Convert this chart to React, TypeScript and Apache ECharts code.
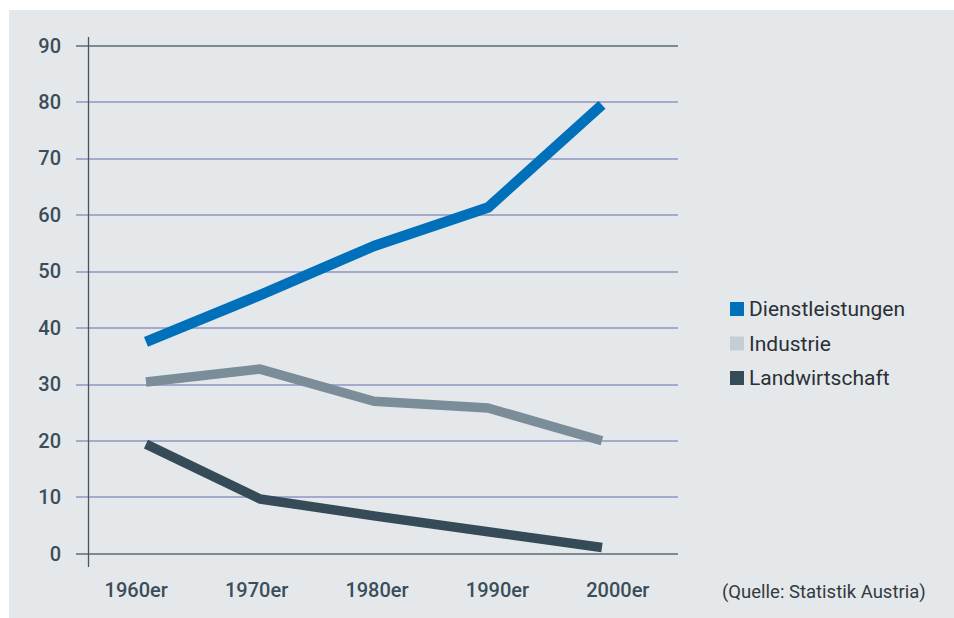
import React, { useEffect, useRef } from "react";
import * as echarts from "echarts";

const categories = ["1960er", "1970er", "1980er", "1990er", "2000er"];
const dienstleistungen = [37.5, 45.8, 54.5, 61.3, 79.5];
const industrie = [30.4, 32.7, 27.0, 25.8, 20.0];
const landwirtschaft = [19.4, 9.7, 6.7, 3.9, 1.1];
const yTicks = [0, 10, 20, 30, 40, 50, 60, 70, 80, 90];
const seriesNames = ["Dienstleistungen", "Industrie", "Landwirtschaft"];
const sourceText = "(Quelle: Statistik Austria)";

const FONT = "Roboto";
const AXIS_TEXT = "#3b4d59";

export default function App() {
  const ref = useRef<HTMLDivElement>(null);
  useEffect(() => {
    if (!ref.current) return;
    const chart = echarts.init(ref.current, null, { renderer: "svg" });
    const toPairs = (arr: number[]) => arr.map((v, i) => [i, v]);
    const gridColors = yTicks.map((t, i) =>
      i === 0 || i === yTicks.length - 1 ? "#5b6b75" : "#8f96c4"
    );
    chart.setOption({
      animation: false,
      backgroundColor: "#ffffff",
      textStyle: { fontFamily: FONT },
      graphic: [
        {
          type: "rect",
          z: -10,
          silent: true,
          shape: { x: 9, y: 10, width: 945, height: 608 },
          style: { fill: "#e4e8eb" },
        },
        {
          type: "line",
          z: 5,
          silent: true,
          shape: { x1: 88.5, y1: 37, x2: 88.5, y2: 567 },
          style: { stroke: "#44555f", lineWidth: 1.3 },
        },
        {
          type: "text",
          x: 722,
          y: 592,
          style: {
            text: sourceText,
            fontFamily: FONT,
            fontSize: 18.5,
            fill: "#333a3f",
            verticalAlign: "middle",
            align: "left",
          },
        },
      ],
      grid: { left: 76, right: 276, top: 45.5, bottom: 64.3, containLabel: false },
      legend: {
        orient: "vertical",
        left: 725,
        top: 293,
        icon: "rect",
        itemWidth: 14,
        itemHeight: 14,
        itemGap: 12.5,
        textStyle: { fontFamily: FONT, fontSize: 21, color: "#2b3035", lineHeight: 22 },
        data: [
          { name: seriesNames[0], itemStyle: { color: "#0070ba" } },
          { name: seriesNames[1], itemStyle: { color: "#c6cdd3" } },
          { name: seriesNames[2], itemStyle: { color: "#354b58" } },
        ],
      },
      xAxis: [
        {
          type: "category",
          data: categories,
          boundaryGap: true,
          axisLine: { show: false },
          axisTick: { show: false },
          splitLine: { show: false },
          axisLabel: {
            color: AXIS_TEXT,
            fontSize: 20,
            fontWeight: 500,
            fontFamily: FONT,
            margin: 26,
          },
        },
        {
          type: "value",
          min: -0.614,
          max: 4.667,
          show: false,
          splitLine: { show: false },
        },
      ],
      yAxis: {
        type: "value",
        min: 0,
        max: 90,
        interval: 10,
        axisLine: { show: false },
        axisTick: { show: false },
        axisLabel: {
          color: AXIS_TEXT,
          fontSize: 20,
          fontWeight: 500,
          fontFamily: FONT,
          margin: 15,
        },
        splitLine: { show: true, lineStyle: { color: gridColors, width: 1.5 } },
      },
      series: [
        {
          name: seriesNames[1],
          type: "line",
          xAxisIndex: 1,
          data: toPairs(industrie),
          symbol: "none",
          lineStyle: { color: "#7b8d99", width: 9.5, cap: "butt", join: "round" },
          itemStyle: { color: "#7b8d99" },
        },
        {
          name: seriesNames[2],
          type: "line",
          xAxisIndex: 1,
          data: toPairs(landwirtschaft),
          symbol: "none",
          lineStyle: { color: "#354b58", width: 9.5, cap: "butt", join: "round" },
          itemStyle: { color: "#354b58" },
        },
        {
          name: seriesNames[0],
          type: "line",
          xAxisIndex: 1,
          data: toPairs(dienstleistungen),
          symbol: "none",
          lineStyle: { color: "#0070ba", width: 10.5, cap: "butt", join: "round" },
          itemStyle: { color: "#0070ba" },
        },
      ],
    });
    return () => chart.dispose();
  }, []);
  return (
    <div
      ref={ref}
      style={{ position: "absolute", left: 0, top: 0, width: 954, height: 618 }}
    />
  );
}
